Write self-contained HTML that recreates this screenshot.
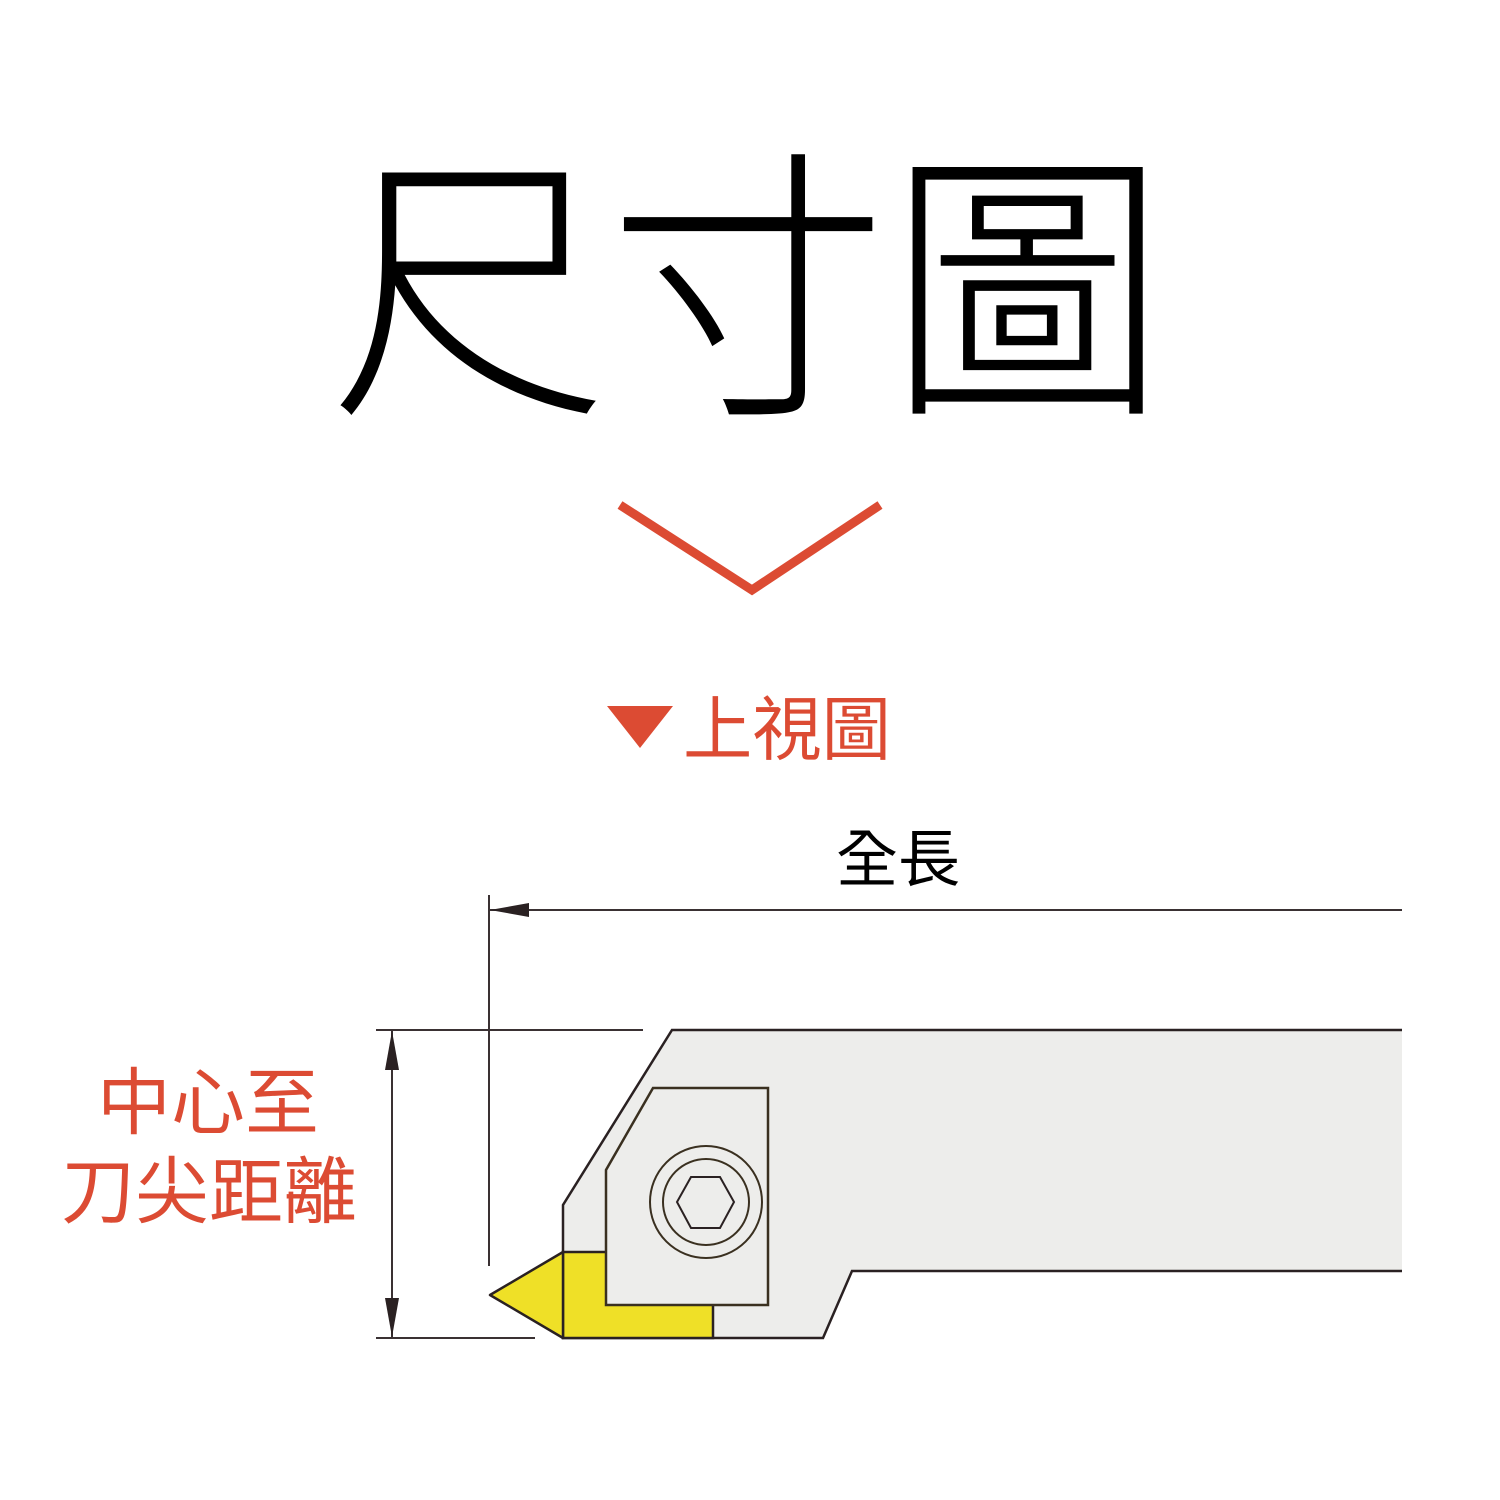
<!DOCTYPE html>
<html><head><meta charset="utf-8"><style>
html,body{margin:0;padding:0;background:#fff;}
body{width:1500px;height:1500px;position:relative;overflow:hidden;}
svg{position:absolute;left:0;top:0;}
</style></head><body>
<svg width="1500" height="1500" viewBox="0 0 1500 1500" xmlns="http://www.w3.org/2000/svg">
<text x="748" y="393" font-family="'Liberation Sans','Noto Sans CJK TC',sans-serif" font-size="286" font-weight="300" text-anchor="middle" fill="#000" textLength="838" lengthAdjust="spacingAndGlyphs">尺寸圖</text>
<polyline points="620,505 752,590 880,505" fill="none" stroke="#dc4b33" stroke-width="9"/>
<polygon points="607,706 673,706 640,748" fill="#dc4b33"/>
<text x="683" y="754" font-family="'Liberation Sans','Noto Sans CJK TC',sans-serif" font-size="70" fill="#dc4b33" textLength="208" lengthAdjust="spacingAndGlyphs">上視圖</text>
<text x="836" y="881" font-family="'Liberation Sans','Noto Sans CJK TC',sans-serif" font-size="62" fill="#000" textLength="124" lengthAdjust="spacingAndGlyphs">全長</text>
<text x="97" y="1128" font-family="'Liberation Sans','Noto Sans CJK TC',sans-serif" font-size="73" fill="#dc4b33" textLength="222" lengthAdjust="spacingAndGlyphs">中心至</text>
<text x="61" y="1217" font-family="'Liberation Sans','Noto Sans CJK TC',sans-serif" font-size="73" fill="#dc4b33" textLength="296" lengthAdjust="spacingAndGlyphs">刀尖距離</text>
<g stroke="#3a3133" stroke-width="2" fill="none">
<line x1="489" y1="895" x2="489" y2="1266"/>
<line x1="489" y1="910" x2="1402" y2="910"/>
<line x1="376" y1="1030" x2="643" y2="1030"/>
<line x1="376" y1="1338" x2="535" y2="1338"/>
<line x1="392" y1="1030" x2="392" y2="1338"/>
</g>
<g fill="#2a2122">
<polygon points="490,910 529,903 529,917"/>
<polygon points="392,1031 385,1070 399,1070"/>
<polygon points="392,1337 385,1298 399,1298"/>
</g>
<polygon points="672,1030 1402,1030 1402,1271 852,1271 823,1338 563,1338 563,1205" fill="#ededeb"/>
<polyline points="1402,1030 672,1030 563,1205 563,1338 823,1338 852,1271 1402,1271" fill="none" stroke="#2a2122" stroke-width="2.5"/>
<rect x="563" y="1252" width="150" height="86" fill="#efe027" stroke="#2a2122" stroke-width="2.5"/>
<polygon points="490,1295 563,1252 563,1338" fill="#efe027" stroke="#2a2122" stroke-width="2.5" stroke-linejoin="round"/>
<polygon points="653,1088 768,1088 768,1305 606,1305 606,1170" fill="#ededeb" stroke="#3a3020" stroke-width="2.5"/>
<circle cx="706" cy="1202" r="56" fill="none" stroke="#3a3020" stroke-width="2"/>
<circle cx="706" cy="1202" r="43" fill="none" stroke="#3a3020" stroke-width="2"/>
<polygon points="677,1202 691,1177 720,1177 734,1202 720,1228 691,1228" fill="none" stroke="#2a2122" stroke-width="2"/>
</svg>
</body></html>
